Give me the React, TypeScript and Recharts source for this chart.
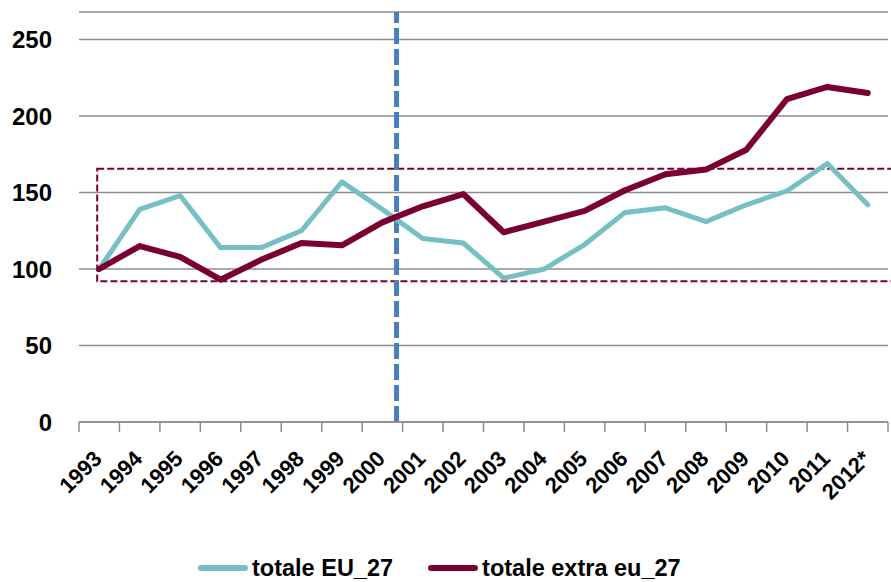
import React from 'react';
import { LineChart, Line, XAxis, YAxis, CartesianGrid, ReferenceLine, ReferenceArea, Legend } from 'recharts';

const YEARS = ['1993', '1994', '1995', '1996', '1997', '1998', '1999', '2000', '2001', '2002',
  '2003', '2004', '2005', '2006', '2007', '2008', '2009', '2010', '2011', '2012*'];
const TOTALE_EU_27 = [100, 139, 148, 114, 114, 125, 157, 139, 120, 117,
  94, 100, 116, 137, 140, 131, 142, 151, 169, 142];
const TOTALE_EXTRA_EU_27 = [100, 115, 108, 93, 106, 117, 115.5, 130.5, 141, 149,
  124, 131, 138, 151.5, 162, 165, 178, 211, 219, 215];
const Y_TICKS = [0, 50, 100, 150, 200, 250];

// dashed divider sits just left of the 2001 boundary, box marks the 92-165 band
const DIVIDER_AT = 7.35;
const BAND = { from: -0.05, to: 19.7, low: 92, high: 165.5 };

const FONT = '"Liberation Sans", Arial, sans-serif';
const TEAL = '#76c0c5';
const MAROON = '#7a0032';
const GRID = '#8c8c8c';

const data = YEARS.map((year, i) => ({
  idx: i,
  year,
  eu: TOTALE_EU_27[i],
  extra: TOTALE_EXTRA_EU_27[i],
}));

// ticks at every category boundary (tick marks) and centre (labels)
const xTicks: number[] = [];
YEARS.forEach((_, i) => { xTicks.push(i - 0.5, i); });
xTicks.push(YEARS.length - 0.5);

const YearTick = (props: any) => {
  const { x, y, payload } = props;
  const v = payload.value;
  if (!Number.isInteger(v)) {
    return <line x1={x} y1={y} x2={x} y2={y + 10} stroke={GRID} strokeWidth={1.5} />;
  }
  const tx = x + 4;
  const ty = y + 38;
  return (
    <text x={tx} y={ty} transform={`rotate(-45, ${tx}, ${ty})`} textAnchor="end"
      fontFamily={FONT} fontWeight="bold" fontSize={22} fill="#000">
      {YEARS[v]}
    </text>
  );
};

const LegendContent = (props: any) => {
  const { payload = [] } = props;
  return (
    <div style={{
      display: 'flex', alignItems: 'flex-start', boxSizing: 'border-box', height: 40, paddingTop: 13,
      fontFamily: FONT, fontWeight: 'bold', fontSize: 23.5, color: '#000', whiteSpace: 'nowrap',
    }}>
      {payload.map((entry: any, i: number) => (
        <div key={entry.value} style={{ display: 'flex', alignItems: 'flex-start', marginLeft: i ? 35 : 0 }}>
          <span style={{ display: 'inline-block', width: 50, height: 6, marginTop: 10, marginRight: 4, borderRadius: 3, background: entry.color }} />
          <span>{entry.value}</span>
        </div>
      ))}
    </div>
  );
};

export default function App() {
  return (
    <div style={{ position: 'absolute', left: 0, top: 0, width: 891, height: 582, background: '#fff' }}>
      <LineChart width={891} height={582} data={data} margin={{ top: 12, right: 3, bottom: 0, left: 0 }}>
        <CartesianGrid vertical={false} stroke={GRID} strokeWidth={1.5} />
        <XAxis
          dataKey="idx"
          type="number"
          domain={[-0.5, YEARS.length - 0.5]}
          ticks={xTicks}
          interval={0}
          height={120}
          tickSize={0}
          tickMargin={0}
          tickLine={false}
          axisLine={{ stroke: GRID, strokeWidth: 1.5 }}
          tick={<YearTick />}
        />
        <YAxis
          type="number"
          domain={[0, 268]}
          ticks={Y_TICKS}
          width={79}
          axisLine={false}
          tickLine={false}
          tickSize={0}
          tickMargin={27}
          tick={{ fontFamily: FONT, fontWeight: 'bold', fontSize: 24, fill: '#000' }}
        />
        <ReferenceArea
          x1={BAND.from}
          x2={BAND.to}
          y1={BAND.low}
          y2={BAND.high}
          ifOverflow="visible"
          fill="none"
          stroke={MAROON}
          strokeWidth={2}
          strokeDasharray="7 3"
        />
        <ReferenceLine x={DIVIDER_AT} stroke="#4a7ebf" strokeWidth={5} strokeDasharray="16 5" />
        <Line type="linear" dataKey="eu" name="totale EU_27" stroke={TEAL} strokeWidth={5}
          strokeLinejoin="round" strokeLinecap="round" dot={false} activeDot={false} isAnimationActive={false} />
        <Line type="linear" dataKey="extra" name="totale extra eu_27" stroke={MAROON} strokeWidth={6}
          strokeLinejoin="round" strokeLinecap="round" dot={false} activeDot={false} isAnimationActive={false} />
        <Legend verticalAlign="bottom" align="left" content={<LegendContent />}
          wrapperStyle={{ left: 198, width: 'auto', height: 40 }} />
      </LineChart>
    </div>
  );
}
